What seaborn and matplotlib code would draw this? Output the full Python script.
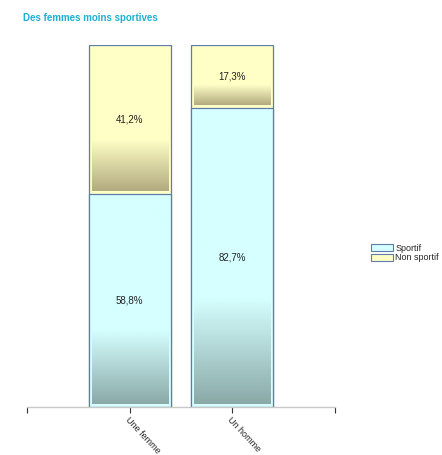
import numpy as np
import matplotlib
matplotlib.use('Agg')
import matplotlib.pyplot as plt
import seaborn as sns
from matplotlib.colors import LinearSegmentedColormap
from matplotlib.patches import Patch

sns.set_style('white')
plt.rcParams['font.family'] = ['Liberation Sans', 'DejaVu Sans']

# données
categories = ['Une femme', 'Un homme']
sportif = [58.8, 82.7]
non_sportif = [41.2, 17.3]
totals = [s + n for s, n in zip(sportif, non_sportif)]

# couleurs
cyan_light = '#d6ffff'
cyan_dark = '#8aaaa8'
yellow_light = '#ffffc6'
yellow_dark = '#b3ab80'
edge = '#5f7ca8'

fig = plt.figure(figsize=(4.42, 4.55), dpi=100)
ax = fig.add_axes([27 / 442, 1 - 407 / 455, (335 - 27) / 442, (407 - 45) / 455])

# barres empilées : total (non sportif) puis sportif par-dessus
sns.barplot(x=categories, y=totals, color=yellow_light, saturation=1, width=0.8,
            edgecolor=edge, linewidth=0.9, ax=ax)
sns.barplot(x=categories, y=sportif, color=cyan_light, saturation=1, width=0.8,
            edgecolor=edge, linewidth=0.9, ax=ax)


def gradient(x0, x1, y0, y1, light, dark):
    # dégradé vertical : foncé en bas, clair au-dessus de 35 %
    t = np.linspace(0, 1, 200)
    v = np.clip(t / 0.36, 0, 1)
    cmap = LinearSegmentedColormap.from_list('g', [dark, light])
    img = v[::-1].reshape(-1, 1)
    ax.imshow(img, cmap=cmap, vmin=0, vmax=1, aspect='auto',
              extent=(x0, x1, y0, y1), zorder=2.5, interpolation='bilinear')


dx = 3 * 3 / 308
dy = 3 * 100 / 362
bars_sp = ax.patches[2:4]
for ps, s, n in zip(bars_sp, sportif, non_sportif):
    x0 = ps.get_x()
    x1 = x0 + ps.get_width()
    gradient(x0 + dx, x1 - dx, 0 + dy, s - dy, cyan_light, cyan_dark)
    gradient(x0 + dx, x1 - dx, s + dy, s + n - dy, yellow_light, yellow_dark)
    cx = x0 + ps.get_width() / 2
    ax.text(cx, s / 2, f'{s:.1f}%'.replace('.', ','), ha='center', va='center',
            fontsize=7, color='#222222', zorder=4)
    ax.text(cx, s + n / 2, f'{n:.1f}%'.replace('.', ','), ha='center', va='center',
            fontsize=7, color='#222222', zorder=4)

ax.set_xlim(-1, 2)
ax.set_ylim(0, 100)

for side in ['left', 'right', 'top']:
    ax.spines[side].set_visible(False)
ax.spines['bottom'].set_color('#c8c8c8')
ax.spines['bottom'].set_linewidth(1)
ax.set_yticks([])
ax.set_xticks([-1, 0, 1, 2])
ax.set_xticklabels(['', categories[0], categories[1], ''])
ax.tick_params(axis='x', bottom=True, length=4, width=0.8, color='#333333',
               labelsize=6.5, pad=2)
for lab in ax.get_xticklabels():
    lab.set_rotation(-47)
    lab.set_ha('left')
    lab.set_va('top')
    lab.set_rotation_mode('anchor')
ax.set_xlabel('')
ax.set_ylabel('')

fig.text(23 / 442, 1 - 18 / 455, 'Des femmes moins sportives', fontsize=7,
         fontweight='bold', color='#1fb0d4', ha='left', va='center')

handles = [Patch(facecolor=cyan_light, edgecolor=edge, linewidth=0.8, label='Sportif'),
           Patch(facecolor=yellow_light, edgecolor=edge, linewidth=0.8, label='Non sportif')]
fig.legend(handles=handles, loc='upper left', bbox_to_anchor=(371 / 442, 1 - 244 / 455),
           frameon=False, fontsize=6.5, handlelength=2.4, handleheight=0.8,
           handletextpad=0.3, labelspacing=0.05, borderpad=0, borderaxespad=0)

fig.savefig('out.png', dpi=100)
